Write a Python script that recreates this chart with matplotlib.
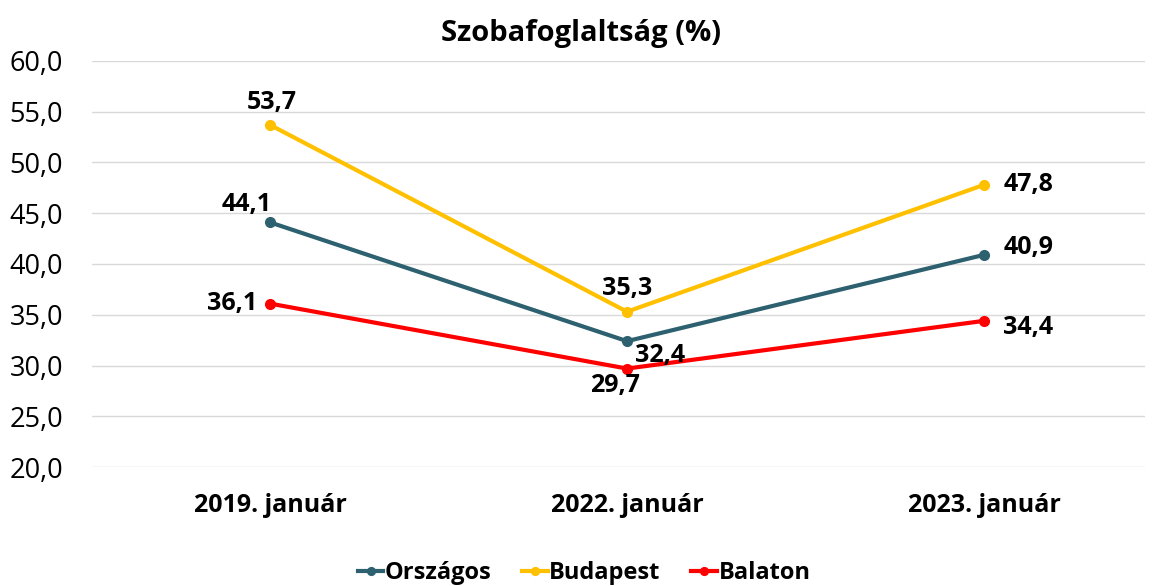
import matplotlib.pyplot as plt
from matplotlib.ticker import FuncFormatter

plt.rcParams['font.family'] = ['Open Sans', 'DejaVu Sans']

categories = ["2019. január", "2022. január", "2023. január"]
orszagos = [44.1, 32.4, 40.9]
budapest = [53.7, 35.3, 47.8]
balaton = [36.1, 29.7, 34.4]

fig = plt.figure(figsize=(11.53, 5.86), dpi=100)
ax = fig.add_axes([0.0798, 0.203, 0.913, 0.693])

x = range(len(categories))
series = [
    ("Országos", orszagos, "#2D6170"),
    ("Budapest", budapest, "#FFC000"),
    ("Balaton", balaton, "#FF0000"),
]
for name, vals, col in series:
    ax.plot(x, vals, color=col, lw=3, marker="o", ms=7, label=name)

# label offsets (points) per point
offsets = {
    "Országos": [(-17, 13), (24, -10), (32, 5)],
    "Budapest": [(1.5, 16), (0, 17), (32, 0)],
    "Balaton": [(-27, 0), (-9, -12), (32, -5)],
}
for name, vals, col in series:
    for i, v in enumerate(vals):
        dx, dy = offsets[name][i]
        ax.annotate(f"{v:.1f}".replace(".", ","), (i, v), xytext=(dx, dy),
                    textcoords="offset points", ha="center", va="center",
                    fontsize=18, fontweight="bold")

ax.set_ylim(20, 60)
ax.set_yticks(range(20, 61, 5))
ax.yaxis.set_major_formatter(FuncFormatter(lambda v, p: f"{v:.1f}".replace(".", ",")))
ax.set_xlim(-0.4986, 2.45)
ax.set_xticks(list(x))
ax.set_xticklabels(categories, fontsize=18, fontweight="bold")
ax.tick_params(axis="y", labelsize=19.5, length=0, pad=21)
ax.tick_params(axis="x", length=0, pad=19)
ax.grid(axis="y", color="#D9D9D9", lw=1)
ax.set_axisbelow(True)
for s in ax.spines.values():
    s.set_visible(False)

fig.text(581 / 1153, 1 - 33 / 586, "Szobafoglaltság (%)", fontsize=21, fontweight="bold",
         ha="center", va="center")

fig.legend(loc="center", bbox_to_anchor=(584 / 1153, 1 - 573 / 586), ncol=3,
           frameon=False, prop={"size": 17, "weight": "bold"}, handlelength=1.1,
           handletextpad=0.05, columnspacing=1.3, markerscale=0.8)

fig.savefig("out.png", dpi=100)
